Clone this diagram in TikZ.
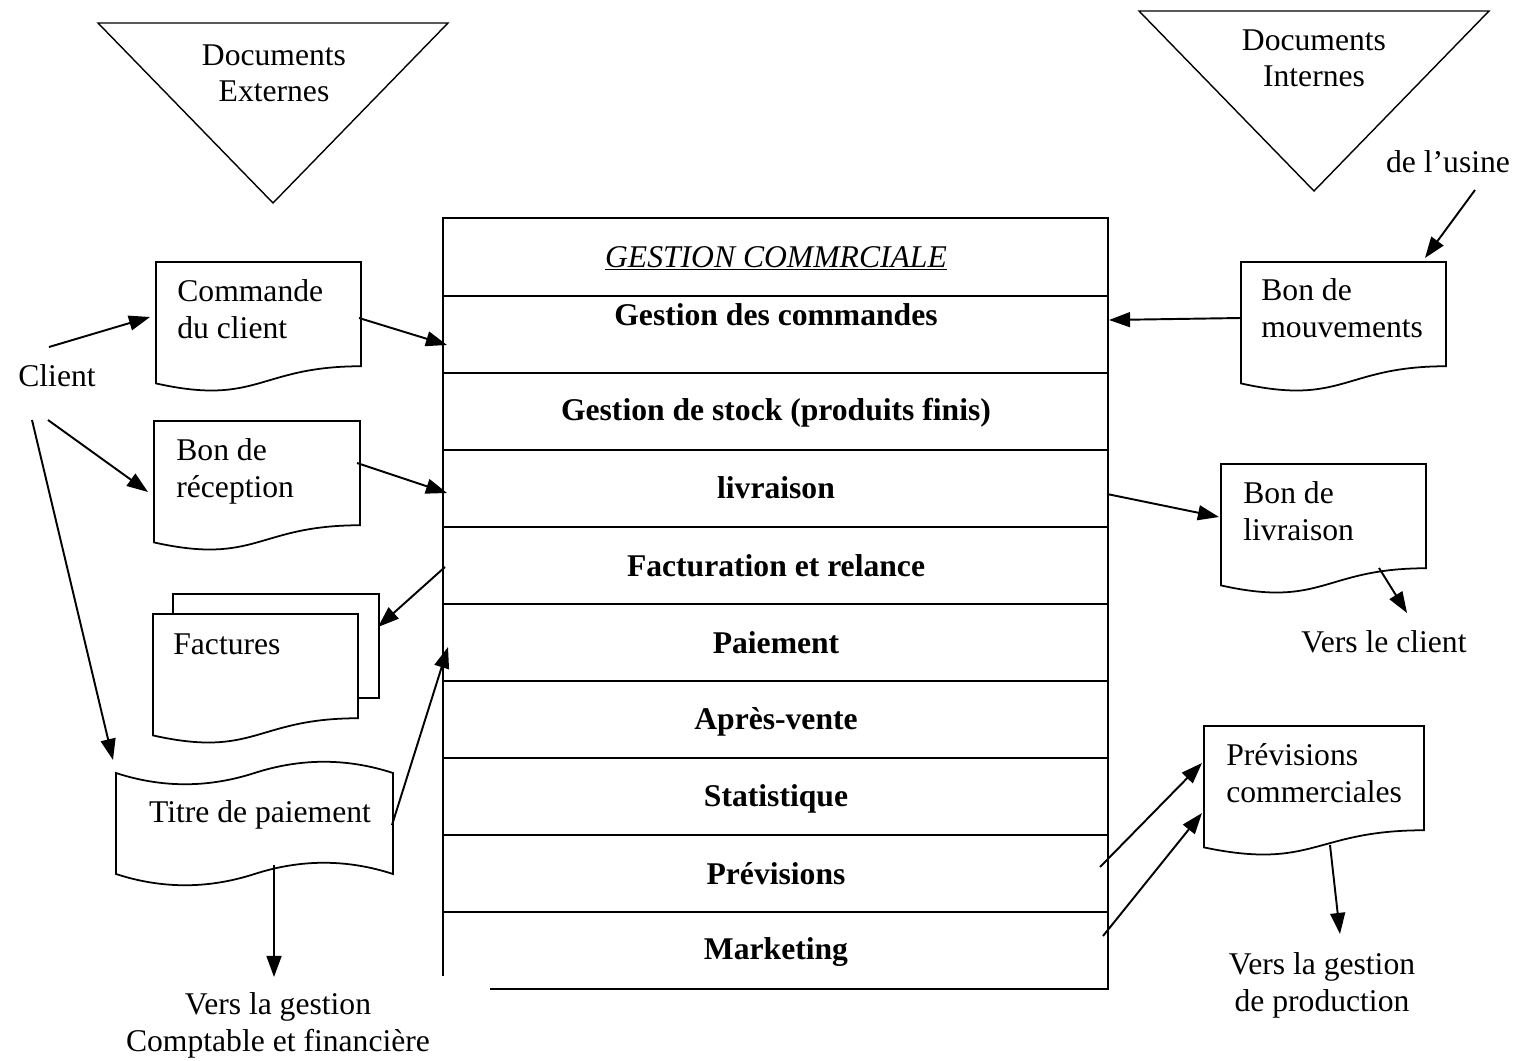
\documentclass[tikz,border=0pt]{standalone}
\usepackage{fontspec}
\setmainfont{Liberation Serif}
\usetikzlibrary{arrows.meta}

% Flowchart "document" symbol: top-left corner (#1,#2), width #3, height #4
\newcommand\flowdoc[4]{%
  \draw[outline, fill=white] (#1,#2) -- ++(#3,0) -- ++(0,{0.802*#4})
    .. controls ++({-0.5*#3},0) and ({#1+0.5*#3},{#2+1.1105*#4}) .. (#1,{#2+0.934*#4}) -- cycle;}

\begin{document}
\begin{tikzpicture}[x=0.02cm, y=-0.02cm,
  txt/.style={font=\fontsize{18}{21}\selectfont, inner sep=0pt},
  lbl/.style={font=\fontsize{18}{21}\selectfont\bfseries, inner sep=0pt, anchor=base},
  outline/.style={line width=1pt},
  tri/.style={line width=0.8pt},
  grid/.style={line width=1.1pt},
  arr/.style={line width=1.1pt, -{Triangle[length=12pt,width=8.5pt]}}]

\useasboundingbox (0,0) rectangle (1524,1061);

% ---- document sources (triangles) ----
% (two-line texts are anchored on the baseline of their last line)
\draw[tri] (98,23) -- (448,23) -- (273,203) -- cycle;
\draw[tri] (1139,11) -- (1489,11) -- (1314,191) -- cycle;
\node[txt, align=center, anchor=base] (docext) at (274,102) {Documents\\Externes};
\node[txt, align=center, anchor=base] (docint) at (1314,87) {Documents\\Internes};
\node[txt, anchor=base] (usine) at (1448,173) {de l’usine};

% ---- central table ----
\draw[grid] (443,976) -- (443,218) -- (1108,218) -- (1108,989) -- (490,989);
\foreach \yy in {296,373,450,527,604,681,758,835,912}
  \draw[grid] (443,\yy) -- (1108,\yy);
\node[lbl, font=\fontsize{18}{21}\selectfont\itshape] (title) at (776,267) {\underline{GESTION COMMRCIALE}};
\node[lbl] (r1) at (776,325) {Gestion des commandes};
\node[lbl] (r2) at (776,420) {Gestion de stock (produits finis)};
\node[lbl] (r3) at (776,498) {livraison};
\node[lbl] (r4) at (776,576) {Facturation et relance};
\node[lbl] (r5) at (776,653) {Paiement};
\node[lbl] (r6) at (776,729) {Après-vente};
\node[lbl] (r7) at (776,806) {Statistique};
\node[lbl] (r8) at (776,884) {Prévisions};
\node[lbl] (r9) at (776,959) {Marketing};

% ---- left side documents ----
\node[txt, anchor=base] (client) at (57,386) {Client};

\flowdoc{156}{262}{205}{130}
\node[txt, align=left, anchor=base west] (cmd) at (177,338) {Commande\\du client};

\flowdoc{154}{421}{206}{130}
\node[txt, align=left, anchor=base west] (rec) at (176,497) {Bon de\\réception};

% stacked invoices
\draw[outline] (173,614) -- (173,594) -- (379,594) -- (379,698) -- (358,698);
\flowdoc{153}{614}{205}{130}
\node[txt, anchor=base west] (fact) at (173,654) {Factures};

% payment slip (punched tape)
\draw[outline] (116,773) .. controls (162,788) and (208,788) .. (254.5,773)
  .. controls (301,758) and (347,758) .. (393,773) -- (393,874)
  .. controls (347,859) and (301,859) .. (254.5,874)
  .. controls (208,889) and (162,889) .. (116,874) -- cycle;
\node[txt, anchor=base] (titre) at (260,822) {Titre de paiement};
\node[txt, align=center, anchor=base] (compta) at (278,1051) {Vers la gestion\\Comptable et financière};

% ---- right side documents ----
\flowdoc{1241}{262}{205}{130}
\node[txt, align=left, anchor=base west] (mvt) at (1261,337) {Bon de\\mouvements};

\flowdoc{1221}{464}{205}{130}
\node[txt, align=left, anchor=base west] (liv) at (1243,540) {Bon de\\livraison};
\node[txt, anchor=base] (versclient) at (1384,652) {Vers le client};

\flowdoc{1204}{726}{220}{130}
\node[txt, align=left, anchor=base west] (prev) at (1226,802) {Prévisions\\commerciales};
\node[txt, align=center, anchor=base] (prod) at (1322,1011) {Vers la gestion\\de production};

% ---- connector end points ----
\coordinate (c1) at (49,347);       \coordinate (cmd-in) at (150,317);
\coordinate (cmd-out) at (359,318); \coordinate (box-cmd) at (447,345);
\coordinate (c2) at (48,420);       \coordinate (rec-in) at (148,492);
\coordinate (rec-out) at (357,463); \coordinate (box-rec) at (447,493);
\coordinate (c3) at (32,420);       \coordinate (titre-in) at (113,760);
\coordinate (box-fact) at (445,567); \coordinate (fact-in) at (378,627);
\coordinate (titre-out) at (392,825); \coordinate (box-pay) at (448,647);
\coordinate (titre-down) at (274,865); \coordinate (titre-end) at (274,977);
\coordinate (usine-a) at (1475,190); \coordinate (mvt-in) at (1425,258);
\coordinate (mvt-out) at (1241,318); \coordinate (box-mvt) at (1109,320);
\coordinate (box-liv) at (1107,494); \coordinate (liv-in) at (1219,517);
\coordinate (liv-out) at (1379,568); \coordinate (liv-end) at (1407,613);
\coordinate (box-prev) at (1100,867); \coordinate (prev-in1) at (1202,763);
\coordinate (box-mkt) at (1103,936); \coordinate (prev-in2) at (1202,813);
\coordinate (prev-out) at (1330,845); \coordinate (prev-end) at (1340,934);

% ---- connectors ----
\draw[arr] (c1) -- (cmd-in);
\draw[arr] (cmd-out) -- (box-cmd);
\draw[arr] (c2) -- (rec-in);
\draw[arr] (rec-out) -- (box-rec);
\draw[arr] (c3) -- (titre-in);
\draw[arr] (box-fact) -- (fact-in);
\draw[arr] (titre-out) -- (box-pay);
\draw[arr] (titre-down) -- (titre-end);
\draw[arr] (usine-a) -- (mvt-in);
\draw[arr] (mvt-out) -- (box-mvt);
\draw[arr] (box-liv) -- (liv-in);
\draw[arr] (liv-out) -- (liv-end);
\draw[arr] (box-prev) -- (prev-in1);
\draw[arr] (box-mkt) -- (prev-in2);
\draw[arr] (prev-out) -- (prev-end);

\end{tikzpicture}
\end{document}
